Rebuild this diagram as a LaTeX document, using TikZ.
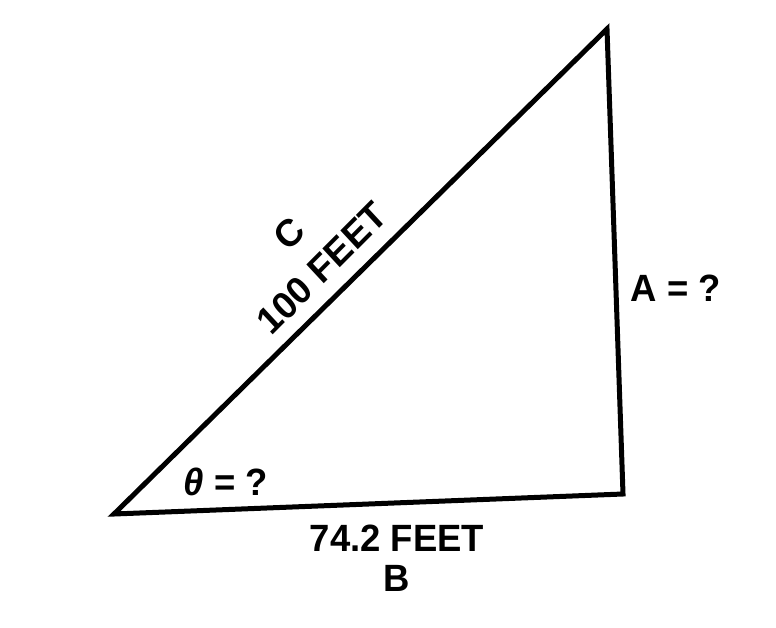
\documentclass[tikz,border=0pt]{standalone}
\usepackage{fontspec}
\setmainfont{Liberation Sans}
\begin{document}
\begin{tikzpicture}[x=1pt,y=-1pt,
  lbl/.style={inner sep=0pt, font=\fontsize{38}{40}\selectfont\bfseries, xscale=0.96},
  side/.style={line width=5pt, line join=miter}]
\useasboundingbox (0,0) rectangle (776,627);
\coordinate (L) at (114,514);
\coordinate (R) at (623,494);
\coordinate (T) at (607,29);
\draw[side] (L) -- (R) -- (T) -- cycle;
\node[lbl, rotate=44] (c) at (289,234) {C};
\node[lbl, rotate=44] (c100) at (322,268) {100 FEET};
\node[lbl] (a) at (676,288) {A = ?};
\node[lbl] (th) at (226,482) {\textit{θ} = ?};
\node[lbl] (b74) at (397,538) {74.2 FEET};
\node[lbl] (b) at (397,578) {B};
\end{tikzpicture}
\end{document}
